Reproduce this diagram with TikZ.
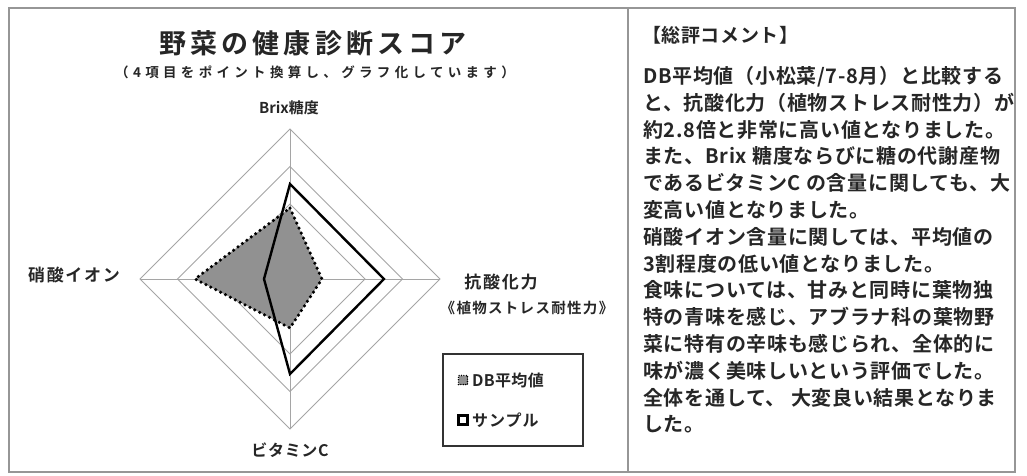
\documentclass[tikz,border=0pt]{standalone}
\usepackage{fontspec}
\setmainfont{Noto Sans CJK JP}
\newfontfamily\jpb{Noto Sans CJK JP Bold}
\definecolor{framegray}{RGB}{150,150,150}
\definecolor{gridgray}{RGB}{165,165,165}
\definecolor{dbfill}{RGB}{145,145,145}
\tikzset{
  frameline/.style={draw=framegray, line width=2pt},
  gridline/.style={draw=gridgray, line width=1pt},
  dbpoly/.style={fill=dbfill, draw=black, line width=3.5pt, line cap=round, dash pattern=on 0pt off 5.5pt},
  smpoly/.style={draw=black, line width=2.4pt, line join=miter},
  lbl/.style={inner sep=0pt, text=black!85},
}
\newcommand{\jfont}[2]{\jpb\fontsize{#1}{#1}\selectfont\addfontfeature{LetterSpace=#2}}
\begin{document}
\begin{tikzpicture}[x=1pt,y=-1pt]
\useasboundingbox (0,0) rectangle (1027,475);
\fill[white] (0,0) rectangle (1027,475);
% frame
\draw[frameline] (9,7.5) rectangle (1015,472);
\draw[frameline] (628,7.5) -- (628,472);
% radar grid
\coordinate (c) at (290,279);
\foreach \r in {75,112.5,150}{
  \draw[gridline] (290,279-\r) -- (290+\r,279) -- (290,279+\r) -- (290-\r,279) -- cycle;
}
\draw[gridline] (290,129) -- (290,429);
\draw[gridline] (140,279) -- (440,279);
% DB average
\draw[dbpoly] (290,208) -- (322,279) -- (290,328) -- (195,279) -- cycle;
% sample
\draw[smpoly] (290,184) -- (384,279) -- (290,374) -- (264,279) -- cycle;
% titles
\node[lbl] (title) at (313,43) {\jfont{27}{15}野菜の健康診断スコア};
\node[lbl] (sub) at (315,72) {\jfont{13.5}{32}（4項目をポイント換算し、グラフ化しています）};
% axis labels
\node[lbl] (brix) at (289,108) {\jfont{15}{0}Brix糖度};
\node[lbl] (no3) at (74,275) {\jfont{17}{10}硝酸イオン};
\node[lbl] (anti) at (501,282) {\jfont{17}{10}抗酸化力};
\node[lbl] (anti2) at (527,308) {\jfont{14.5}{9}《植物ストレス耐性力》};
\node[lbl] (vitc) at (290,450) {\jfont{16}{4}ビタミンC};
% legend
\node[draw=black!80, line width=1.5pt, minimum width=140pt, minimum height=92pt, inner sep=0pt] (leg) at (513,400) {};
\node[fill=dbfill, draw=black, line width=1.6pt, dash pattern=on 0pt off 2.4pt, line cap=round, minimum size=9pt, inner sep=0pt] (m1) at (463,380) {};
\node[lbl, anchor=west] (l1) at (472,380) {\jfont{16}{2}DB平均値};
\node[draw=black, line width=2.2pt, fill=white, minimum size=9pt, inner sep=0pt] (m2) at (463,420) {};
\node[lbl, anchor=west] (l2) at (472,420) {\jfont{16}{6}サンプル};
% comment panel
\node[lbl, anchor=west] (head) at (642,35) {\jfont{19}{3}【総評コメント】};
\node[lbl, anchor=north west, align=left,
  font={\jpb\fontsize{20}{26.8}\selectfont\addfontfeature{LetterSpace=3.5}}] (body) at (643,66) {%
DB平均値（小松菜/7-8月）と比較する\\
と、抗酸化力（植物ストレス耐性力）が\\
約2.8倍と非常に高い値となりました。\\
また、Brix 糖度ならびに糖の代謝産物\\
であるビタミンC の含量に関しても、大\\
変高い値となりました。\\
硝酸イオン含量に関しては、平均値の\\
3割程度の低い値となりました。\\
食味については、甘みと同時に葉物独\\
特の青味を感じ、アブラナ科の葉物野\\
菜に特有の辛味も感じられ、全体的に\\
味が濃く美味しいという評価でした。\\
全体を通して、 大変良い結果となりま\\
した。};
\end{tikzpicture}
\end{document}
